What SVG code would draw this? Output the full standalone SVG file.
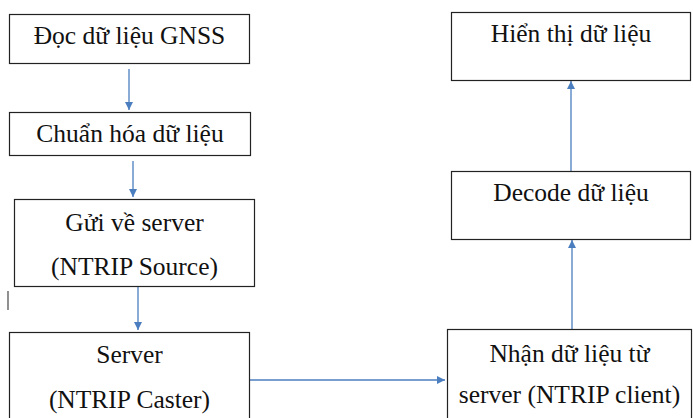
<svg xmlns="http://www.w3.org/2000/svg" width="693" height="418" viewBox="0 0 693 418">
<defs>
<style>
.box{fill:#fff;stroke:#222;stroke-width:1.2}
.t{font-family:'Liberation Serif','Times New Roman','DejaVu Serif',serif;font-size:25.5px;fill:#111;text-anchor:middle}
.c{stroke:#4a7ebf;stroke-width:1.3;fill:none}
</style>
<marker id="ah" viewBox="0 0 10 10" refX="10" refY="5" markerWidth="8" markerHeight="8" markerUnits="userSpaceOnUse" orient="auto">
<path d="M0,0 L10,5 L0,10 z" fill="#4a7ebf"/>
</marker>
</defs>
<rect width="693" height="418" fill="#fff"/>
<g id="connectors">
<line class="c" x1="129" y1="69" x2="129" y2="110" marker-end="url(#ah)"/>
<line class="c" x1="133" y1="161" x2="133" y2="197" marker-end="url(#ah)"/>
<line class="c" x1="138" y1="287" x2="138" y2="330" marker-end="url(#ah)"/>
<line class="c" x1="249" y1="380" x2="445" y2="380" marker-end="url(#ah)"/>
<line class="c" x1="572" y1="329" x2="572" y2="240" marker-end="url(#ah)"/>
<line class="c" x1="571" y1="171" x2="571" y2="81" marker-end="url(#ah)"/>
</g>
<line x1="8" y1="291" x2="8" y2="310" stroke="#555" stroke-width="1.3"/>
<g id="n1"><rect class="box" x="9.5" y="14.5" width="240" height="49"/><text class="t" x="129.5" y="44">Đọc dữ liệu GNSS</text></g>
<g id="n2"><rect class="box" x="9.5" y="112.5" width="241" height="43"/><text class="t" x="130" y="142">Chuẩn hóa dữ liệu</text></g>
<g id="n3"><rect class="box" x="14.5" y="199.5" width="240" height="87"/><text class="t" x="134.5" y="231">Gửi về server</text><text class="t" x="134.5" y="275">(NTRIP Source)</text></g>
<g id="n4"><rect class="box" x="9.5" y="332.5" width="240" height="100"/><text class="t" x="129.5" y="363">Server</text><text class="t" x="129.5" y="408">(NTRIP Caster)</text></g>
<g id="n5"><rect class="box" x="447.5" y="329.5" width="244" height="100"/><text class="t" x="569.5" y="362">Nhận dữ liệu từ</text><text class="t" x="569.5" y="403">server (NTRIP client)</text></g>
<g id="n6"><rect class="box" x="451.5" y="171.5" width="239" height="68"/><text class="t" x="571" y="201">Decode dữ liệu</text></g>
<g id="n7"><rect class="box" x="451.5" y="12.5" width="239" height="68"/><text class="t" x="571" y="42">Hiển thị dữ liệu</text></g>
</svg>
